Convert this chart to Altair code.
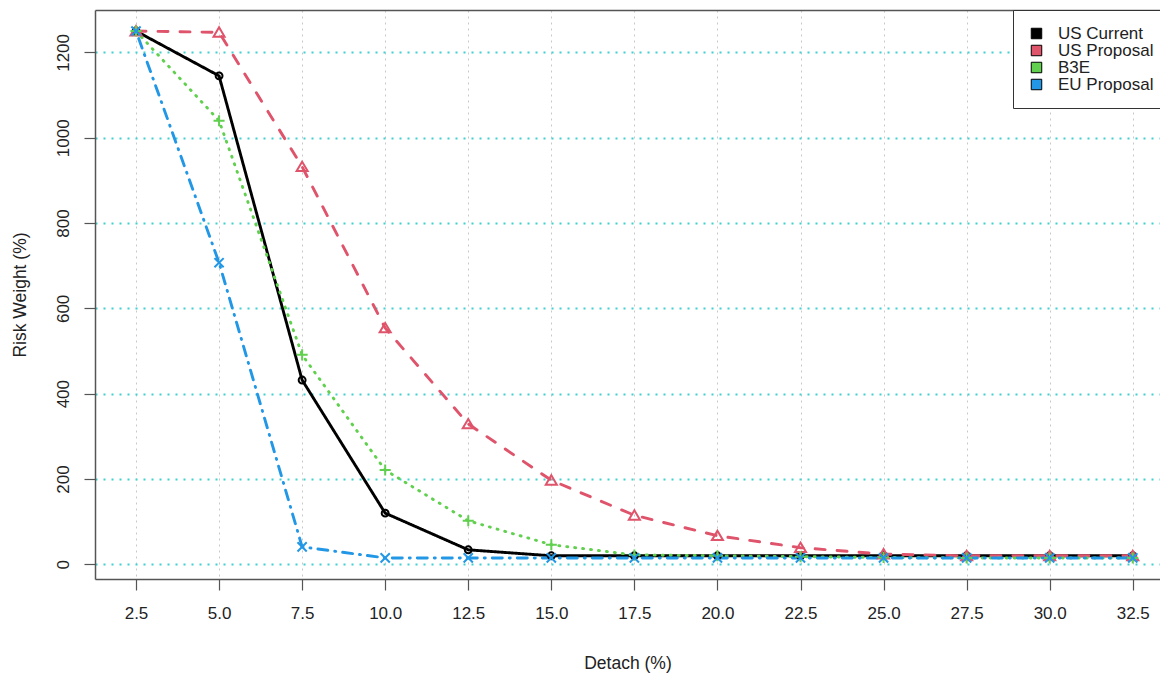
import altair as alt
import pandas as pd

detach = [2.5, 5.0, 7.5, 10.0, 12.5, 15.0, 17.5, 20.0, 22.5, 25.0, 27.5, 30.0, 32.5]
us_current = [1250, 1145, 432, 120, 34, 20, 20, 20, 20, 20, 20, 20, 20]
us_proposal = [1250, 1247, 932, 554, 329, 197, 115, 67, 39, 24, 20, 20, 20]
b3e = [1250, 1040, 491, 221, 102, 46, 22, 20, 18, 16, 15, 15, 15]
eu_proposal = [1250, 707, 41, 15, 15, 15, 15, 15, 15, 15, 15, 15, 15]

series_names = ["US Current", "US Proposal", "B3E", "EU Proposal"]
series_values = [us_current, us_proposal, b3e, eu_proposal]
series_colors = ["#000000", "#DF536B", "#61D04F", "#2297E6"]
series_dash = [[1, 0], [10, 12], [1, 7], [1, 7, 10, 7]]
series_shapes = [
    "M-0.75,0A0.75,0.75 0 1,0 0.75,0A0.75,0.75 0 1,0 -0.75,0Z",
    "M0,-1.1L1.2,0.95L-1.2,0.95Z",
    "M-1.2,0L1.2,0M0,-1.2L0,1.2",
    "M-1,-1L1,1M-1,1L1,-1",
]
x_ticks = detach
y_ticks = [0, 200, 400, 600, 800, 1000, 1200]

rows = []
for name, vals in zip(series_names, series_values):
    for d, v in zip(detach, vals):
        rows.append({"Detach": d, "RW": v, "Series": name, "Legend": name})
df = pd.DataFrame(rows)

FONT = "Liberation Sans"
TXT = "#222222"
FRAME = "#555555"

x_scale = alt.Scale(domain=[1.266, 33.32], nice=False, zero=False)
y_scale = alt.Scale(domain=[-34.4, 1299.4], nice=False, zero=False)

x_enc = alt.X(
    "Detach:Q",
    scale=x_scale,
    axis=alt.Axis(
        values=x_ticks, format=".1f", title="Detach (%)",
        grid=True, gridColor="#c8c8c8", gridDash=[2, 4], gridWidth=1,
        tickSize=11, tickColor=FRAME, tickWidth=1.2,
        domain=True, domainColor=FRAME, domainWidth=1.5,
        labelPadding=15, titlePadding=33,
    ),
)
y_enc = alt.Y(
    "RW:Q",
    scale=y_scale,
    axis=alt.Axis(
        values=y_ticks, format="d", title="Risk Weight (%)",
        grid=True, gridColor="#3fd0d0", gridDash=[2, 6], gridWidth=2,
        tickSize=11, tickColor=FRAME, tickWidth=1.2,
        domain=True, domainColor=FRAME, domainWidth=1.5,
        labelAngle=270, labelAlign="center", labelBaseline="bottom",
        labelPadding=12, titlePadding=25,
    ),
)
stroke_enc = alt.Stroke(
    "Series:N", scale=alt.Scale(domain=series_names, range=series_colors), legend=None
)

lines = alt.Chart(df).mark_line(strokeWidth=2.9, strokeCap="round", clip=True).encode(
    x=x_enc,
    y=y_enc,
    stroke=stroke_enc,
    strokeDash=alt.StrokeDash(
        "Series:N", scale=alt.Scale(domain=series_names, range=series_dash), legend=None
    ),
)

points = alt.Chart(df).mark_point(filled=False, strokeWidth=2, size=85, clip=True, opacity=1).encode(
    x=alt.X("Detach:Q", scale=x_scale, axis=None),
    y="RW:Q",
    stroke=stroke_enc,
    shape=alt.Shape(
        "Series:N", scale=alt.Scale(domain=series_names, range=series_shapes), legend=None
    ),
)

legend_layer = alt.Chart(df).mark_point(filled=True, shape="square", size=0, clip=True).encode(
    x=alt.X(
        "Detach:Q", scale=x_scale,
        axis=alt.Axis(orient="top", labels=False, ticks=False, grid=False, title=None,
                      values=[], domain=True, domainColor=FRAME, domainWidth=1.5),
    ),
    y="RW:Q",
    fill=alt.Fill(
        "Legend:N",
        sort=series_names,
        scale=alt.Scale(range=series_colors),
        legend=alt.Legend(
            title=None, orient="none", legendX=918, legendY=0,
            symbolType="square", symbolSize=110, symbolStrokeColor="black",
            symbolStrokeWidth=1, symbolOpacity=1,
        ),
    ),
)

chart = (
    alt.layer(lines, points, legend_layer)
    .resolve_axis(x="independent")
    .properties(
        width=1065,
        height=569,
        autosize=alt.AutoSizeParams(type="none"),
        padding={"left": 87, "top": 2, "right": 0, "bottom": 95},
        background="white",
    )
    .configure_view(stroke=None)
    .configure_axis(
        labelFont=FONT, titleFont=FONT, labelFontSize=17,
        titleFontSize=17.5, titleFontWeight="normal", labelColor=TXT, titleColor=TXT,
    )
    .configure_legend(
        labelFont=FONT, labelFontSize=17, labelColor=TXT, padding=15,
        rowPadding=-3, labelOffset=13, strokeColor="#333333", fillColor="white",
        cornerRadius=0,
    )
)

chart.save("out.html", embed_options={"renderer": "svg", "actions": False})
